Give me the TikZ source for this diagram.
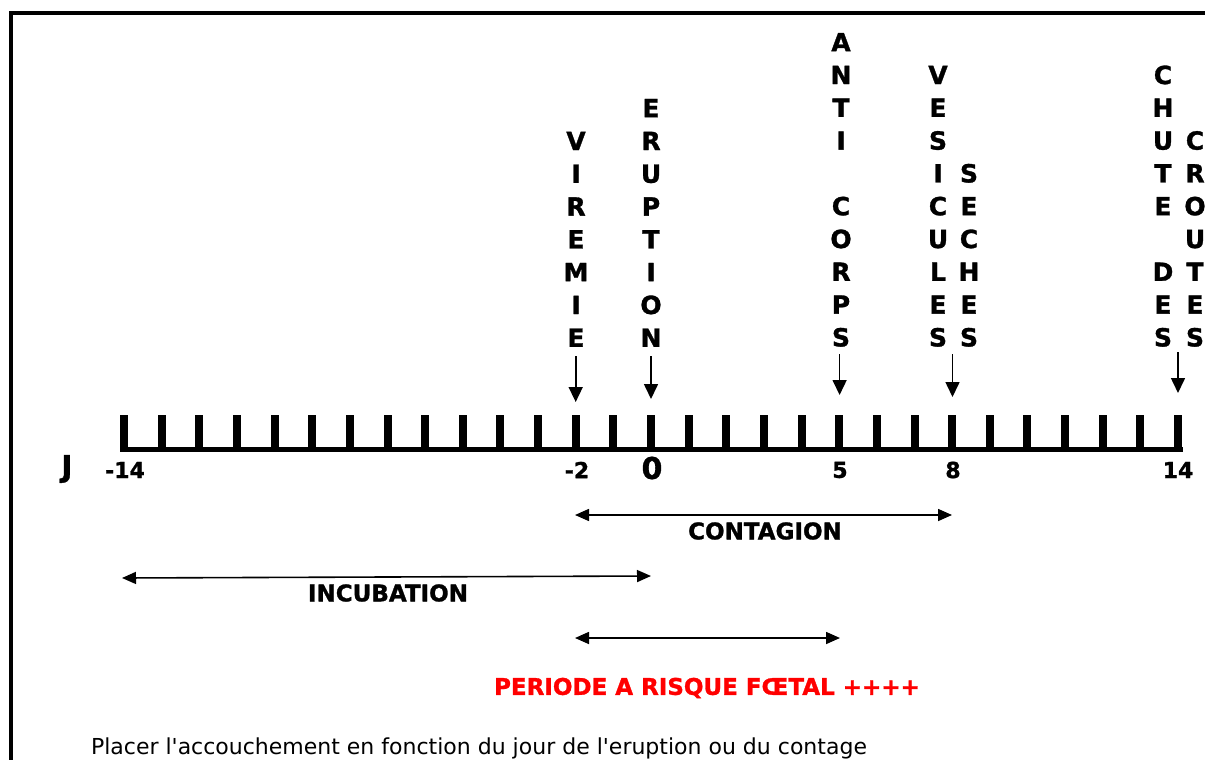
\documentclass[tikz,border=0pt]{standalone}
\usepackage{fontspec}
\setmainfont[BoldFeatures={FakeBold=1.2}]{DejaVu Sans}
\newfontfamily\notefont{DejaVu Sans}
\usetikzlibrary{arrows.meta}
\begin{document}
\begin{tikzpicture}[x=1pt,y=-1pt,
  vword/.style={anchor=south,inner sep=0pt,align=center,font=\bfseries\fontsize{25}{32.8}\selectfont},
  ticklab/.style={inner sep=0pt,font=\bfseries\fontsize{22}{26}\selectfont},
  biglab/.style={inner sep=0pt,font=\bfseries\fontsize{30}{36}\selectfont},
  barlab/.style={inner sep=0pt,font=\bfseries\fontsize{23}{28}\selectfont},
  varrow/.style={line width=1.6pt,-{Triangle[length=15pt,width=14pt]}},
  harrow/.style={line width=1.6pt,{Triangle[length=14pt,width=12pt]}-{Triangle[length=14pt,width=12pt]}},
  tickline/.style={line width=8pt},
]
\useasboundingbox (0,0) rectangle (1205,760);
\clip (0,0) rectangle (1205,760);
\fill[white] (0,0) rectangle (1205,760);
% frame
\draw[line width=3.5pt] (11,775) -- (11,13) -- (1220,13);
% axis
\draw[line width=5pt] (120,449) -- (1183,449);
\foreach \i in {0,...,28}{
  \pgfmathsetmacro{\xx}{124+\i*37.643}
  \pgfmathtruncatemacro{\dd}{\i-14}
  \draw[tickline] (\xx,415) -- (\xx,451);
  \coordinate (d\dd) at (\xx,449);
}
% tick labels
\node[biglab] (lJ) at (67,469) {J};
\node[ticklab] (l-14) at (125,470) {-14};
\node[ticklab] (l-2) at (577,470) {-2};
\node[biglab] (l0) at (652,468) {0};
\node[ticklab] (l5) at (840,470) {5};
\node[ticklab] (l8) at (953,470) {8};
\node[ticklab] (l14) at (1178,470) {14};
% vertical words
\node[vword] (vir) at (576,347) {V\\I\\R\\E\\M\\I\\E};
\node[vword] (eru) at (651,347) {E\\R\\U\\P\\T\\I\\O\\N};
\node[vword] (anti) at (841,347) {A\\N\\T\\I\\\mbox{}\\C\\O\\R\\P\\S};
\node[vword] (vesi) at (938,347) {V\\E\\S\\I\\C\\U\\L\\E\\S};
\node[vword] (sech) at (969,347) {S\\E\\C\\H\\E\\S};
\node[vword] (chute) at (1163,347) {C\\H\\U\\T\\E\\\mbox{}\\D\\E\\S};
\node[vword] (crou) at (1195,347) {C\\R\\O\\U\\T\\E\\S};
% vertical arrows
\coordinate (a1s) at (575.7,356); \coordinate (a1e) at (575.7,402);
\coordinate (a2s) at (651,356);   \coordinate (a2e) at (651,399);
\coordinate (a3s) at (839.6,354); \coordinate (a3e) at (839.6,395);
\coordinate (a4s) at (952.5,354); \coordinate (a4e) at (952.5,397);
\coordinate (a5s) at (1178,352);  \coordinate (a5e) at (1178,393);
\draw[varrow] (a1s) -- (a1e);
\draw[varrow] (a2s) -- (a2e);
\draw[varrow] (a3s) -- (a3e);
\draw[varrow] (a4s) -- (a4e);
\draw[varrow] (a5s) -- (a5e);
% horizontal arrows
\coordinate (c1) at (575,515); \coordinate (c2) at (952,515);
\draw[harrow] (c1) -- (c2);
\node[barlab] (cont) at (765,531) {CONTAGION};
\coordinate (i1) at (122,578); \coordinate (i2) at (651,576);
\draw[harrow] (i1) -- (i2);
\node[barlab] (incu) at (388,593) {INCUBATION};
\coordinate (r1) at (575,638); \coordinate (r2) at (840,638);
\draw[harrow] (r1) -- (r2);
\node[barlab,text=red] (risk) at (707,688) {PERIODE A RISQUE FŒTAL ++++};
\node[inner sep=0pt,font=\notefont\fontsize{22}{26}\selectfont] (note) at (479,748) {Placer l'accouchement en fonction du jour de l'eruption ou du contage};
\end{tikzpicture}
\end{document}
